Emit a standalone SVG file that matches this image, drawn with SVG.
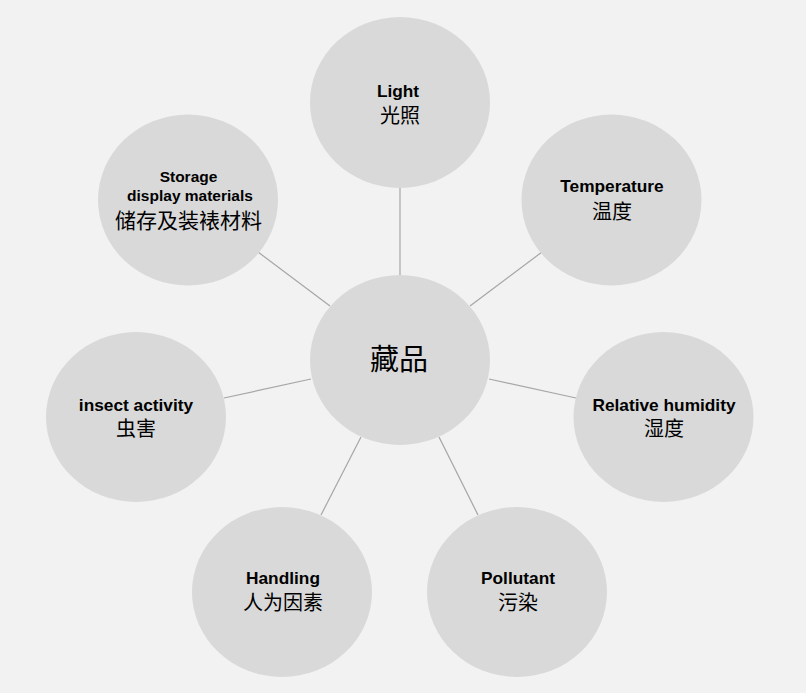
<svg xmlns="http://www.w3.org/2000/svg" width="806" height="693" viewBox="0 0 806 693">
<style>
.bg{fill:#f2f2f2}
.node ellipse{fill:#d9d9d9}
.en{font-family:"Liberation Sans",Arial,sans-serif;font-weight:bold;font-size:17.3px;fill:#000;text-anchor:middle}
.en2{font-size:15.5px}
.zh{font-family:"Noto Sans CJK SC","Noto Sans CJK TC",serif;font-size:20px;fill:#000;text-anchor:middle}
.conn line{stroke:#a6a6a6;stroke-width:1.2}
</style>
<rect class="bg" x="0" y="0" width="806" height="693"/>
<g id="connectors" class="conn">
<line x1="400" y1="275" x2="400" y2="186"/>
<line x1="470" y1="306" x2="542" y2="252"/>
<line x1="489" y1="379" x2="576" y2="398"/>
<line x1="439" y1="437" x2="478" y2="515"/>
<line x1="361" y1="437" x2="321" y2="515"/>
<line x1="311" y1="379" x2="224" y2="398"/>
<line x1="330" y1="306" x2="258" y2="252"/>
</g>
<g id="center" class="node">
<ellipse cx="400" cy="360" rx="90" ry="85"/>
<text class="zh" x="399" y="370" style="font-size:29px">藏品</text>
</g>
<g id="light" class="node">
<ellipse cx="400" cy="102.5" rx="90" ry="85.5"/>
<text class="en" x="398" y="96.5">Light</text>
<text class="zh" x="400" y="123">光照</text>
</g>
<g id="temperature" class="node">
<ellipse cx="611.5" cy="200" rx="90" ry="85.5"/>
<text class="en" x="612" y="191.5">Temperature</text>
<text class="zh" x="612" y="218.5">温度</text>
</g>
<g id="humidity" class="node">
<ellipse cx="663.5" cy="417" rx="90" ry="85"/>
<text class="en" x="664" y="410.5">Relative humidity</text>
<text class="zh" x="664" y="436">湿度</text>
</g>
<g id="pollutant" class="node">
<ellipse cx="517" cy="592" rx="90" ry="85"/>
<text class="en" x="518" y="583.5">Pollutant</text>
<text class="zh" x="518" y="610">污染</text>
</g>
<g id="handling" class="node">
<ellipse cx="282" cy="592" rx="90" ry="85"/>
<text class="en" x="283" y="583.5">Handling</text>
<text class="zh" x="283" y="610">人为因素</text>
</g>
<g id="insect" class="node">
<ellipse cx="136" cy="417" rx="90" ry="85"/>
<text class="en" x="136" y="410.5">insect activity</text>
<text class="zh" x="136" y="436">虫害</text>
</g>
<g id="storage" class="node">
<ellipse cx="188" cy="200" rx="90" ry="85.5"/>
<text class="en en2" x="188.5" y="182">Storage</text>
<text class="en en2" x="190" y="200.5">display materials</text>
<text class="zh" x="188.5" y="227.5" style="font-size:21px">储存及装裱材料</text>
</g>
</svg>
